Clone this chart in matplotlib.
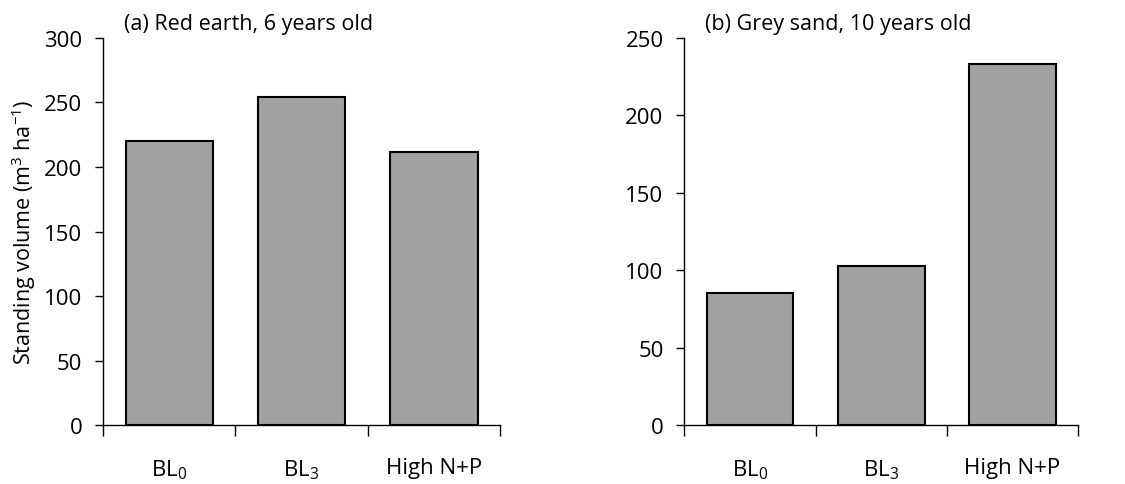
import matplotlib
matplotlib.use("Agg")
import matplotlib.pyplot as plt
import numpy as np

plt.rcParams['font.family'] = ['Open Sans', 'DejaVu Sans']
plt.rcParams['mathtext.fontset'] = 'custom'
plt.rcParams['mathtext.rm'] = 'Open Sans'
plt.rcParams['mathtext.it'] = 'Open Sans'
plt.rcParams['mathtext.default'] = 'rm'

treatments = ['BL$_0$', 'BL$_3$', 'High N+P']
red_earth = [220, 254, 212]
grey_sand = [85, 103, 233]
titles = ['(a) Red earth, 6 years old', '(b) Grey sand, 10 years old']
ylims = [300, 250]
yticks = [np.arange(0, 301, 50), np.arange(0, 251, 50)]

fig = plt.figure(figsize=(11.25, 4.85), dpi=100)
ax1 = fig.add_axes([0.0916, 0.1216, 0.3529, 0.798])
ax2 = fig.add_axes([0.6083, 0.1216, 0.350, 0.798])

x = np.arange(len(treatments)) + 0.5
for ax, vals, title, ymax, yt in zip([ax1, ax2], [red_earth, grey_sand], titles, ylims, yticks):
    ax.bar(x, vals, width=0.66, color='#a0a1a3', edgecolor='black', linewidth=1.5, zorder=2)
    ax.set_xlim(0, 3)
    ax.set_ylim(0, ymax)
    ax.set_yticks(yt)
    # category boundaries get the tick marks, centres get the labels
    ax.set_xticks([0, 1, 2, 3])
    ax.set_xticklabels([])
    ax.set_xticks(x, minor=True)
    ax.set_xticklabels(treatments, minor=True)
    ax.tick_params(axis='x', which='major', direction='out', length=8, width=1)
    ax.tick_params(axis='x', which='minor', length=0, pad=23, labelsize=16)
    ax.tick_params(axis='y', direction='out', length=6, width=1, labelsize=16, pad=9)
    for s in ['top', 'right']:
        ax.spines[s].set_visible(False)
    for s in ['left', 'bottom']:
        ax.spines[s].set_linewidth(1)
    ax.text(0.053, 1.01, title, transform=ax.transAxes, fontsize=15.5, ha='left', va='bottom')

ax1.set_ylabel('Standing volume (m$^3$ ha$^{-1}$)', fontsize=15.5, labelpad=4)

fig.savefig('out.png', dpi=100)
